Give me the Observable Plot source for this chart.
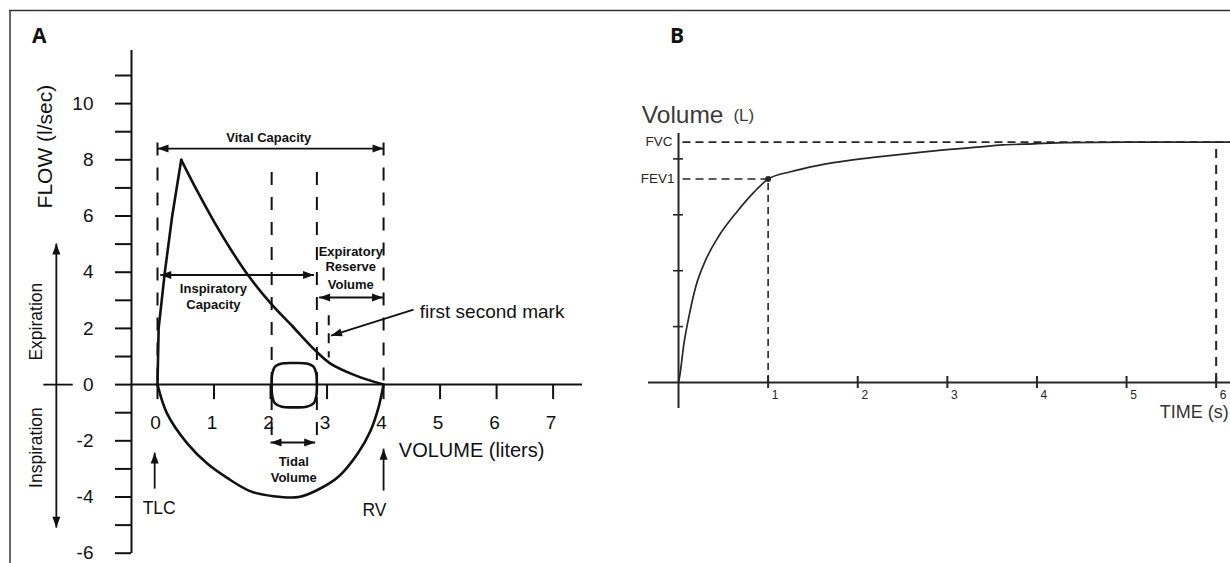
<!DOCTYPE html>
<html><head><meta charset="utf-8">
<script src="https://cdn.jsdelivr.net/npm/d3@7"></script>
<script src="https://cdn.jsdelivr.net/npm/@observablehq/plot@0.6"></script>
<style>
html,body{margin:0;padding:0;background:#fff;overflow:hidden}
#wrap{position:relative;width:1230px;height:563px;overflow:hidden;background:#fff}
#wrap svg{position:absolute;left:0;top:0}
</style></head><body><div id="wrap"></div>
<script>
// ---------- Panel A: flow-volume loop (volume in liters, flow in l/sec) ----------
const flowTicks = [-6,-5,-4,-3,-2,-1,0,1,2,3,4,5,6,7,8,9,10,11];
const flowLabels = [-6,-4,-2,0,2,4,6,8,10];
const volumeTicks = [0,1,2,3,4,5,6,7];
const expiratoryRise = [[0,0],[0.02,2],[0.13,4],[0.26,6],[0.42,8]];
const expiratoryFall = [[0.42,8],[0.7,6.9],[1.0,5.8],[1.3,4.8],[1.6,3.9],[2.0,2.9],[2.4,2.05],[2.8,1.2],[3.06,0.75],[3.5,0.33],[4.0,0]];
const inspiratory = [[0,0],[0.17,-1.03],[0.53,-2.1],[0.88,-2.81],[1.24,-3.33],[1.65,-3.8],[2.05,-3.97],[2.5,-4.0],[2.83,-3.75],[3.19,-3.3],[3.54,-2.46],[3.77,-1.64],[3.91,-0.82],[4.0,0]];
const tidalLoop = [[2.02,0],[2.03,0.38],[2.08,0.64],[2.2,0.75],[2.42,0.77],[2.64,0.75],[2.76,0.64],[2.81,0.38],[2.82,0],[2.81,-0.4],[2.76,-0.67],[2.64,-0.79],[2.42,-0.81],[2.2,-0.79],[2.08,-0.67],[2.03,-0.4]];
// dashed guide lines: volume, flow from, flow to
const guidesA = [[0,8.6,-0.25],[4,8.6,-0.3],[2.02,7.55,-2.1],[2.82,7.55,-2.1]];
const firstSecondMark = [[3.03,2.45,0.95]];
// double-headed span arrows: v1, v2, flow
const spanArrows = [[0,4,8.4],[0.05,2.77,3.9],[2.86,3.99,3.1],[2.0,2.79,-2.06]];
// single arrows: from (v,f) to (v,f)
const pointerArrows = [[-1.79,0,-1.79,5.02],[-1.79,0,-1.79,-5.09],[-0.05,-3.7,-0.05,-2.42],[4.0,-3.77,4.0,-2.28],[4.53,2.67,3.07,1.74]];
const bars = [[-2.02,0,-1.5,0]];
// labels
const boldLabels = [["Vital Capacity",1.97,8.78],["Inspiratory",0.99,3.42],["Capacity",0.99,2.85],["Expiratory",3.42,4.73],["Reserve",3.42,4.2],["Volume",3.42,3.56],["Tidal",2.41,-2.74],["Volume",2.41,-3.31]];
const plainLabels = [["TLC",0.03,-4.39],["RV",3.84,-4.46]];
const startLabels = [["first second mark",4.64,2.59],["VOLUME (liters)",4.27,-2.36]];
const rotatedLabels = [["FLOW (l/sec)",-1.98,8.47],["Expiration",-2.15,2.24],["Inspiration",-2.15,-2.24]];

// ---------- Panel B: volume-time curve ----------
const timeTicks = [1,2,3,4,5,6];
const volTicksB = [1,2,3,4];
const FVC = 4.3, FEV1 = 3.64;
const volumeTime = [[0,0],[0.014,0.12],[0.06,0.69],[0.115,1.17],[0.19,1.7],[0.3,2.18],[0.45,2.62],[0.655,3.06],[0.84,3.4],[1.0,3.64],[1.25,3.77],[1.55,3.88],[1.81,3.95],[2.2,4.03],[2.59,4.1],[3.03,4.17],[3.33,4.21],[3.62,4.25],[3.96,4.27],[4.34,4.29],[5.0,4.3],[6.2,4.3]];

const W = 1230, H = 563;
const font = "'Liberation Sans', Arial, Helvetica, sans-serif";
const ink = "#111";
const P = a => ({v:a[0], f:a[1]});

const xA = [-0.46, 7.52], yA = [-6.01, 11.89];
const plotA = Plot.plot({
  width: W, height: H,
  marginLeft: 131, marginRight: 648, marginTop: 50, marginBottom: 10,
  x: {domain: xA, axis: null}, y: {domain: yA, axis: null},
  style: {background: "transparent", fontFamily: font, color: ink, overflow: "visible"},
  marks: [
    Plot.ruleX([xA[0]], {stroke: ink, strokeWidth: 2}),
    Plot.ruleY([0], {stroke: ink, strokeWidth: 2}),
    Plot.ruleY(flowTicks, {y: d => d, x1: xA[0], x2: xA[0], insetLeft: -16, stroke: ink, strokeWidth: 2}),
    Plot.text(flowLabels, {x: xA[0], y: d => d, text: d => String(d), textAnchor: "end", dx: -38, fontSize: 19, fill: ink}),
    Plot.ruleX(volumeTicks, {x: d => d, y1: 0, y2: 0, insetBottom: -15, stroke: ink, strokeWidth: 2}),
    Plot.text(volumeTicks, {x: d => d, y: 0, dx: -2, dy: 38, text: d => String(d), fontSize: 19, fill: ink}),
    Plot.ruleX(guidesA, {x: d => d[0], y1: d => d[1], y2: d => d[2], stroke: ink, strokeWidth: 2, strokeDasharray: "13,12"}),
    Plot.ruleX(firstSecondMark, {x: d => d[0], y1: d => d[1], y2: d => d[2], stroke: ink, strokeWidth: 2, strokeDasharray: "10,8"}),
    Plot.line(expiratoryRise.map(P), {x: "v", y: "f", stroke: ink, strokeWidth: 2.6}),
    Plot.line(expiratoryFall.map(P), {x: "v", y: "f", curve: "catmull-rom", stroke: ink, strokeWidth: 2.6}),
    Plot.line(inspiratory.map(P), {x: "v", y: "f", curve: "catmull-rom", stroke: ink, strokeWidth: 2.6}),
    Plot.line(tidalLoop.map(P), {x: "v", y: "f", curve: "catmull-rom-closed", stroke: ink, strokeWidth: 2.6}),
    Plot.link(spanArrows, {x1: d => d[0], x2: d => d[1], y1: d => d[2], y2: d => d[2], markerStart: "arrow", markerEnd: "arrow", stroke: ink, strokeWidth: 1.8}),
    Plot.link(pointerArrows, {x1: d => d[0], y1: d => d[1], x2: d => d[2], y2: d => d[3], markerEnd: "arrow", stroke: ink, strokeWidth: 1.8}),
    Plot.link(bars, {x1: d => d[0], y1: d => d[1], x2: d => d[2], y2: d => d[3], stroke: ink, strokeWidth: 1.8}),
    Plot.text(boldLabels, {x: d => d[1], y: d => d[2], text: d => d[0], fontSize: 13, fontWeight: "bold", fill: ink}),
    Plot.text(plainLabels, {x: d => d[1], y: d => d[2], text: d => d[0], fontSize: 17.5, fill: ink}),
    Plot.text(startLabels.slice(0,1), {x: d => d[1], y: d => d[2], text: d => d[0], textAnchor: "start", fontSize: 19, fill: ink}),
    Plot.text(startLabels.slice(1), {x: d => d[1], y: d => d[2], text: d => d[0], textAnchor: "start", fontSize: 20, fill: ink, letterSpacing: 0.4}),
    Plot.text(rotatedLabels.slice(0,1), {x: d => d[1], y: d => d[2], text: d => d[0], rotate: -90, fontSize: 21, fill: ink}),
    Plot.text(rotatedLabels.slice(1), {x: d => d[1], y: d => d[2], text: d => d[0], rotate: -90, fontSize: 17.5, fill: ink})
  ]
});

const inkB = "#262626";
const xB = [-0.335, 6.16], yB = [-0.465, 4.454];
const plotB = Plot.plot({
  width: W, height: H,
  marginLeft: 648, marginRight: 0, marginTop: 133, marginBottom: 155,
  x: {domain: xB, axis: null}, y: {domain: yB, axis: null},
  style: {background: "transparent", fontFamily: font, color: inkB, overflow: "visible"},
  marks: [
    Plot.ruleX([0], {stroke: inkB, strokeWidth: 2}),
    Plot.ruleY([0], {stroke: inkB, strokeWidth: 2}),
    Plot.ruleX(timeTicks, {x: d => d, y1: 0, y2: 0, insetTop: -6, insetBottom: -6, stroke: inkB, strokeWidth: 2}),
    Plot.ruleY(volTicksB, {y: d => d, x1: 0, x2: 0, insetLeft: -5, insetRight: -5, stroke: inkB, strokeWidth: 1.6}),
    Plot.text(timeTicks, {x: d => d, y: 0, dx: 7, dy: 13, text: d => String(d), fontSize: 12, fill: inkB}),
    Plot.ruleY([FVC], {x1: 0.05, x2: xB[1], stroke: inkB, strokeWidth: 1.6, strokeDasharray: "8,5"}),
    Plot.ruleY([FEV1], {x1: 0.05, x2: 1, stroke: inkB, strokeWidth: 1.6, strokeDasharray: "8,5"}),
    Plot.ruleX([1], {y1: 0, y2: FEV1, stroke: inkB, strokeWidth: 1.6, strokeDasharray: "7,5"}),
    Plot.ruleX([6], {y1: 0, y2: FVC, stroke: inkB, strokeWidth: 2, strokeDasharray: "9,7"}),
    Plot.line(volumeTime.map(d => ({t: d[0], v: d[1]})), {x: "t", y: "v", curve: "monotone-x", stroke: inkB, strokeWidth: 1.7}),
    Plot.dot([[1, FEV1]], {x: d => d[0], y: d => d[1], r: 3, fill: inkB}),
    Plot.text(["FVC"], {x: 0, y: FVC, dx: -6, text: d => d, textAnchor: "end", fontSize: 13.5, fill: inkB}),
    Plot.text(["FEV1"], {x: 0, y: FEV1, dx: -4, text: d => d, textAnchor: "end", fontSize: 13.5, fill: inkB}),
    Plot.text(["Volume"], {x: -0.41, y: 4.78, text: d => d, textAnchor: "start", fontSize: 24.5, fill: "#3a3a3a"}),
    Plot.text(["(L)"], {x: 0.613, y: 4.78, text: d => d, textAnchor: "start", fontSize: 17, fill: "#3a3a3a"}),
    Plot.text(["TIME (s)"], {x: 5.37, y: -0.54, text: d => d, textAnchor: "start", fontSize: 18, fill: "#333", letterSpacing: -0.5})
  ]
});

function solidHeads(svg, len, half) {
  svg.querySelectorAll("marker").forEach(m => {
    const c = m.getAttribute("stroke") || ink;
    m.setAttribute("viewBox", `${-len - 1} ${-half - 1} ${len + 2} ${2 * half + 2}`);
    m.setAttribute("markerUnits", "userSpaceOnUse");
    m.setAttribute("markerWidth", len + 2);
    m.setAttribute("markerHeight", 2 * half + 2);
    m.setAttribute("refX", 0);
    m.setAttribute("refY", 0);
    m.setAttribute("orient", "auto-start-reverse");
    m.setAttribute("fill", c);
    m.setAttribute("stroke", "none");
    const p = m.querySelector("path");
    if (p) p.setAttribute("d", `M${-len},${-half}L0,0L${-len},${half}Z`);
  });
}
solidHeads(plotA, 11, 4);

const wrap = document.getElementById("wrap");
wrap.appendChild(plotA);
wrap.appendChild(plotB);

// figure frame and panel letters
const ns = "http://www.w3.org/2000/svg";
const deco = document.createElementNS(ns, "svg");
deco.setAttribute("width", W); deco.setAttribute("height", H);
deco.innerHTML = `
  <line x1="9" y1="10.5" x2="1230" y2="10.5" stroke="#333" stroke-width="1.5"/>
  <line x1="10" y1="10" x2="10" y2="563" stroke="#333" stroke-width="1.5"/>
  <text x="32" y="43" font-family="'Open Sans', 'DejaVu Sans', sans-serif" font-weight="bold" font-size="21" fill="#111">A</text>
  <text x="670" y="43" font-family="'Open Sans', 'DejaVu Sans', sans-serif" font-weight="bold" font-size="21" fill="#111">B</text>`;
wrap.appendChild(deco);
</script>
</body></html>
